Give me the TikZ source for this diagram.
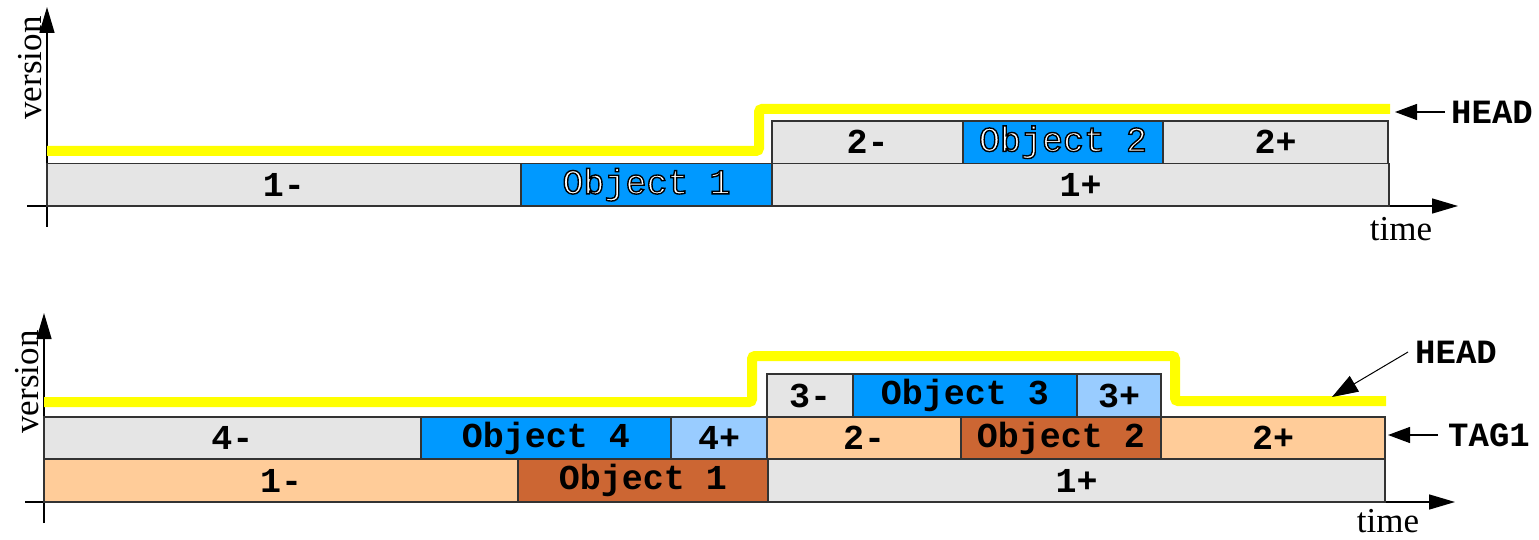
\documentclass[tikz,border=0pt]{standalone}
\usepackage{fontspec}
\setmainfont{Liberation Serif}
\setmonofont{Liberation Mono}
\usetikzlibrary{arrows.meta}
\definecolor{cgray}{RGB}{229,229,229}
\definecolor{cblue}{RGB}{0,153,255}
\definecolor{clblue}{RGB}{153,204,255}
\definecolor{cpeach}{RGB}{255,204,153}
\definecolor{cbrown}{RGB}{204,102,51}
\definecolor{cyel}{RGB}{255,255,0}
\definecolor{cline}{RGB}{51,51,51}
\newcommand\outl[1]{{\color{white}\special{pdf:literal direct 2 Tr 1.4 w 0 G}#1\special{pdf:literal direct 0 Tr}}}
\newcommand\cellbox[7]{%
  \pgfmathsetmacro{\cbx}{(#2+#3)/2}\pgfmathsetmacro{\cby}{(#4+#5)/2}%
  \pgfmathsetmacro{\cbw}{#3-#2}\pgfmathsetmacro{\cbh}{#5-#4}%
  \node[cell, fill=#6, minimum width=\cbw pt, minimum height=\cbh pt] (#1) at (\cbx,\cby) {#7};}
\tikzset{
  cell/.style={draw=cline, line width=1.5pt, inner sep=0pt, outer sep=0pt, anchor=center,
    font=\ttfamily\bfseries\fontsize{35}{38}\selectfont},
  axis/.style={line width=1.5pt, -{Triangle[length=26pt,width=15pt]}},
  ptr/.style={line width=1.3pt, -{Triangle[length=22pt,width=16pt]}},
  axlab/.style={font=\fontsize{35}{38}\selectfont, inner sep=0pt},
  tag/.style={font=\ttfamily\bfseries\fontsize{34}{36}\selectfont, inner sep=0pt, anchor=west},
  head/.style={draw=cyel, line width=10pt, rounded corners=3pt},
}
\begin{document}
\begin{tikzpicture}[x=1pt,y=-1pt]
\useasboundingbox (0,0) rectangle (1539,540);
% ---------------- top diagram ----------------
\coordinate (tv0) at (47,227); \coordinate (tv1) at (47,7);
\coordinate (th0) at (27,206); \coordinate (th1) at (1458,206);
\draw[axis] (tv0) -- (tv1);
\draw[axis] (th0) -- (th1);
\node[axlab, rotate=90] (tver) at (30,68) {version};
\node[axlab] (ttime) at (1401,229) {time};
\coordinate (ty0) at (47,151); \coordinate (ty1) at (759,151);
\coordinate (ty2) at (759,109); \coordinate (ty3) at (1390,109);
\draw[head] (ty0) -- (ty1) -- (ty2) -- (ty3);
\cellbox{t1m}{47}{521}{163.5}{206}{cgray}{1-}
\cellbox{to1}{521}{772}{163.5}{206}{cblue}{\outl{\mdseries Object 1}}
\cellbox{t1p}{772}{1389}{163.5}{206}{cgray}{1+}
\cellbox{t2m}{772}{963}{121}{163.5}{cgray}{2-}
\cellbox{to2}{963}{1163}{121}{163.5}{cblue}{\outl{\mdseries Object 2}}
\cellbox{t2p}{1163}{1388}{121}{163.5}{cgray}{2+}
\node[tag] (thead) at (1451,112) {HEAD};
\coordinate (theadtip) at (1395,112);
\draw[ptr] ([xshift=-6pt]thead.west) -- (theadtip);
% ---------------- bottom diagram ----------------
\coordinate (bv0) at (44,523); \coordinate (bv1) at (44,313);
\coordinate (bh0) at (25,502); \coordinate (bh1) at (1455,502);
\draw[axis] (bv0) -- (bv1);
\draw[axis] (bh0) -- (bh1);
\node[axlab, rotate=90] (bver) at (27,382) {version};
\node[axlab] (btime) at (1388,521) {time};
\coordinate (by0) at (44,402); \coordinate (by1) at (752,402);
\coordinate (by2) at (752,356); \coordinate (by3) at (1175,356);
\coordinate (by4) at (1175,401); \coordinate (by5) at (1386,401);
\draw[head] (by0) -- (by1) -- (by2) -- (by3) -- (by4) -- (by5);
\cellbox{b1m}{44}{518}{459}{502}{cpeach}{1-}
\cellbox{bo1}{518}{768}{459}{502}{cbrown}{Object 1}
\cellbox{b1p}{768}{1385}{459}{502}{cgray}{1+}
\cellbox{b4m}{44}{421}{417}{459}{cgray}{4-}
\cellbox{bo4}{421}{671}{417}{459}{cblue}{Object 4}
\cellbox{b4p}{671}{767}{417}{459}{clblue}{4+}
\cellbox{b2m}{767}{961}{417}{459}{cpeach}{2-}
\cellbox{bo2}{961}{1161}{417}{459}{cbrown}{Object 2}
\cellbox{b2p}{1161}{1385}{417}{459}{cpeach}{2+}
\cellbox{b3m}{767}{853}{374}{417}{cgray}{3-}
\cellbox{bo3}{853}{1077}{374}{417}{cblue}{Object 3}
\cellbox{b3p}{1077}{1161}{374}{417}{clblue}{3+}
\node[tag] (btag) at (1448,435) {TAG1};
\coordinate (btagtip) at (1388,435);
\draw[ptr] ([xshift=-10pt]btag.west) -- (btagtip);
\node[tag] (bhead) at (1415,352) {HEAD};
\coordinate (bheadtip) at (1332,397);
\draw[line width=1pt, -{Triangle[length=26pt,width=18pt]}] ([xshift=-7pt]bhead.west) -- (bheadtip);
\end{tikzpicture}
\end{document}
